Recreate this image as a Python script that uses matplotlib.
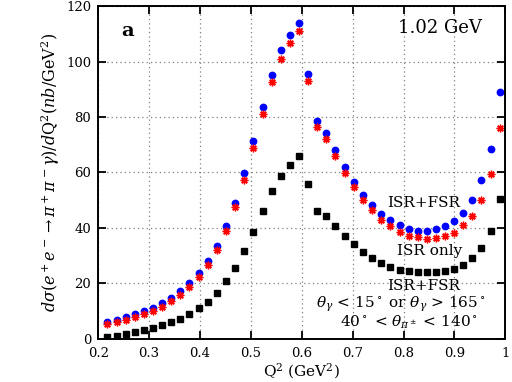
import matplotlib
matplotlib.use("Agg")
import matplotlib.pyplot as plt

plt.rcParams['font.family'] = ['DejaVu Serif']
plt.rcParams['mathtext.fontset'] = 'dejavuserif'

# Q^2 bin centres (GeV^2)
q2 = [0.218, 0.236, 0.254, 0.272, 0.290, 0.308, 0.325, 0.343, 0.361, 0.379,
      0.397, 0.415, 0.433, 0.451, 0.469, 0.487, 0.505, 0.523, 0.541, 0.559,
      0.577, 0.595, 0.612, 0.630, 0.648, 0.666, 0.684, 0.702, 0.720, 0.738,
      0.756, 0.774, 0.792, 0.810, 0.828, 0.846, 0.864, 0.882, 0.899, 0.917,
      0.935, 0.953, 0.971, 0.989]

# ISR+FSR (blue)
isr_fsr = [6.2, 6.9, 7.8, 8.8, 10.0, 11.2, 12.8, 14.8, 17.1, 20.1,
           23.6, 28.1, 33.6, 40.8, 49.1, 59.7, 71.5, 83.6, 95.3, 104.0,
           109.5, 113.8, 95.5, 78.6, 74.4, 68.2, 62.0, 56.6, 51.8, 48.3,
           45.0, 42.9, 41.1, 39.6, 39.0, 38.8, 39.5, 40.7, 42.5, 45.5,
           50.0, 57.2, 68.5, 89.1]

# ISR only (red)
isr_only = [5.3, 5.9, 6.8, 7.9, 8.9, 10.1, 11.6, 13.7, 15.9, 18.6,
            22.2, 26.6, 32.0, 39.0, 47.5, 57.3, 68.9, 81.1, 92.5, 101.1,
            106.7, 110.9, 93.0, 76.3, 72.1, 66.0, 59.8, 54.7, 50.0, 46.5,
            42.9, 40.8, 38.6, 37.1, 36.6, 36.0, 36.3, 37.1, 38.3, 41.0,
            44.4, 50.0, 59.4, 76.1]

# ISR+FSR with angular cuts (black)
isr_fsr_cut = [0.8, 1.2, 1.8, 2.4, 3.1, 4.0, 4.9, 6.0, 7.3, 8.9,
               11.1, 13.4, 16.7, 20.8, 25.6, 31.7, 38.7, 46.0, 53.2, 58.8,
               62.8, 65.9, 55.9, 46.2, 44.2, 40.8, 37.1, 34.2, 31.2, 29.1,
               27.3, 25.8, 24.9, 24.3, 24.0, 24.0, 24.1, 24.5, 25.1, 26.7,
               29.2, 32.9, 39.0, 50.3]

xticks = [0.2, 0.3, 0.4, 0.5, 0.6, 0.7, 0.8, 0.9, 1.0]
xticklabels = ["0.2", "0.3", "0.4", "0.5", "0.6", "0.7", "0.8", "0.9", "1"]
yticks = [0, 20, 40, 60, 80, 100, 120]

fig = plt.figure(figsize=(5.12, 3.82), dpi=100)
ax = fig.add_axes([0.192, 0.113, 0.795, 0.871])

ax.plot(q2, isr_fsr_cut, ls="none", marker="s", ms=4.5, color="black")
ax.plot(q2, isr_fsr, ls="none", marker="o", ms=4.6, color="#0000ff", mec="#0000ff")
ax.plot(q2, isr_only, ls="none", marker=(8, 2, 0), ms=5.5, mew=1.0, color="#ff0000")

ax.set_xlim(0.2, 1.0)
ax.set_ylim(0, 120)
ax.set_xticks(xticks)
ax.set_xticklabels(xticklabels)
ax.set_yticks(yticks)
ax.grid(True, color="#808080", ls=(0, (1, 2.5)), lw=0.9)
ax.tick_params(direction="in", length=6, width=1.3, top=True, right=True,
               labelsize=9.5)
ax.tick_params(axis="x", pad=6)
ax.tick_params(axis="y", pad=5)
for s in ax.spines.values():
    s.set_linewidth(1.4)

ax.set_xlabel(r"Q$^2$ (GeV$^2$)", fontsize=11, labelpad=1)
ax.set_ylabel(r"$d\sigma(e^+e^-\rightarrow\pi^+\pi^-\gamma)/d\mathrm{Q}^2(nb/\mathrm{GeV}^2)$",
              fontsize=11.5, labelpad=3)

ax.text(0.257, 111, "a", fontsize=14, fontweight="bold", ha="center", va="center")
ax.text(0.953, 112, "1.02 GeV", fontsize=13, ha="right", va="center")
ax.text(0.840, 49.0, "ISR+FSR", fontsize=11, ha="center", va="center")
ax.text(0.852, 31.8, "ISR only", fontsize=11, ha="center", va="center")
ax.text(0.840, 19.1, "ISR+FSR", fontsize=11, ha="center", va="center")
ax.text(0.794, 12.3, r"$\theta_\gamma$ < 15$^\circ$ or $\theta_\gamma$ > 165$^\circ$",
        fontsize=11, ha="center", va="center")
ax.text(0.811, 6.0, r"40$^\circ$ < $\theta_{\pi^\pm}$ < 140$^\circ$",
        fontsize=11, ha="center", va="center")

fig.savefig("out.png", dpi=100)
